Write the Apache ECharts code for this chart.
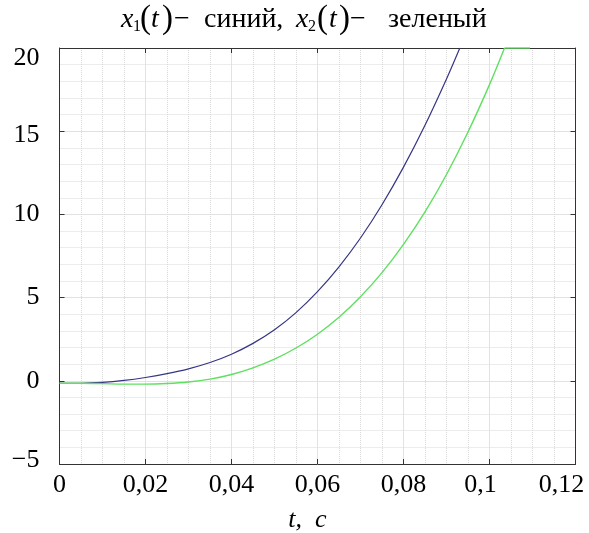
<!DOCTYPE html>
<html><head><meta charset="utf-8">
<script src="https://cdn.jsdelivr.net/npm/echarts@6/dist/echarts.min.js"></script>
<style>html,body{margin:0;padding:0;background:#fff}#c{width:589px;height:533px}</style>
</head><body><div id="c"></div>
<script>
// time (s)
const tBlue = [0,0.005,0.01,0.015,0.02,0.025,0.03,0.035,0.04,0.045,0.05,0.055,0.06,0.065,0.07,0.075,0.08,0.085,0.09,0.0931];
const x1Blue = [-0.15,-0.15,-0.1,0.02,0.2,0.43,0.72,1.1,1.6,2.25,3.07,4.1,5.36,6.85,8.58,10.58,12.84,15.36,18.14,20];
const tGreen = [0,0.005,0.01,0.015,0.02,0.025,0.03,0.035,0.04,0.045,0.05,0.055,0.06,0.065,0.07,0.075,0.08,0.085,0.09,0.095,0.1,0.1035];
const x2Green = [-0.15,-0.15,-0.17,-0.2,-0.2,-0.16,-0.07,0.1,0.38,0.78,1.3,1.97,2.8,3.82,5.05,6.5,8.2,10.15,12.4,14.95,17.8,20];
// green saturated at the top of the plot
const tGreenTop = [0.1035,0.1094];
const x2GreenTop = [20,20];
const xTicks = {min:0, max:0.12, step:0.02};
const yTicks = {min:-5, max:20, step:5};

const font = 'Liberation Serif, Times New Roman, serif';
const pair = (ts, vs) => ts.map((t,i)=>[t, vs[i]]);
const chart = echarts.init(document.getElementById('c'), null, {renderer:'canvas'});
const axisCommon = {
  axisLine:{show:true, onZero:false, lineStyle:{color:'#333', width:1}},
  axisTick:{show:true, inside:true, length:5, lineStyle:{color:'#333'}},
};
const lbl = {fontFamily:font, fontSize:26, color:'#000', fontWeight:'normal'};
// title pieces: [text, left x, font css, centre y]
const titleParts = [
  ['x', 121, 'italic 28px', 20], ['1', 133, '16px', 27], ['(', 140, '33px', 19], ['t', 151, 'italic 28px', 20],
  [')', 162, '33px', 19], ['−', 174, '28px', 20], ['синий,', 204, '28px', 20],
  ['x', 296, 'italic 28px', 20], ['2', 308, '16px', 27], ['(', 317, '33px', 19], ['t', 329, 'italic 28px', 20],
  [')', 339, '33px', 19], ['−', 350, '28px', 20], ['зеленый', 388, '28px', 20]
];
const green = {color:'#5fe05f', width:1.4};
chart.setOption({
  animation:false,
  backgroundColor:'#fff',
  graphic: titleParts.map(p=>({type:'text', silent:true,
    style:{text:p[0], font:p[2]+' '+font, fill:'#000', verticalAlign:'middle'},
    position:[p[1], p[3]]
  })),
  grid:{left:59.5, right:13.5, top:48, bottom:69, containLabel:false, outerBoundsMode:'none'},
  xAxis:[{
    type:'value', min:xTicks.min, max:xTicks.max, interval:xTicks.step,
    ...axisCommon,
    axisLabel:{...lbl, margin:8,
      formatter:v=>{
        if(v===0) return '0';
        const s=String(+v.toFixed(2)).replace('.',',');
        if(Math.abs(v-0.1)<1e-9) return '{a|'+s+'}';
        if(Math.abs(v-0.12)<1e-9) return '{b|'+s+'}';
        return s;
      },
      rich:{a:{...lbl, padding:[0,18,0,0]}, b:{...lbl, padding:[0,28,0,0]}}},
    splitLine:{show:true, lineStyle:{color:'#e2e2e2', width:1}},
    minorTick:{show:false, splitNumber:4},
    minorSplitLine:{show:true, lineStyle:{color:'#d8d8d8', type:'dotted', width:1}},
    name:'{i|t,  c}', nameLocation:'middle', nameGap:43,
    nameTextStyle:{padding:[0,20,0,0], rich:{i:{fontFamily:font, fontStyle:'italic', fontSize:26, color:'#000'}}}
  },{
    type:'value', position:'top', min:xTicks.min, max:xTicks.max, interval:xTicks.step,
    ...axisCommon, axisLabel:{show:false}, splitLine:{show:false}
  }],
  yAxis:[{
    type:'value', min:yTicks.min, max:yTicks.max, interval:yTicks.step,
    ...axisCommon,
    axisLabel:{...lbl, margin:20,
      formatter:v=>v===20?'{top|20}':v===15?'{mid|15}':(v<0?'{neg|−'+Math.abs(v)+'}':String(v)),
      rich:{
        top:{...lbl, padding:[20,0,0,0]},
        mid:{...lbl, padding:[7,0,0,0]},
        neg:{...lbl, padding:[0,0,7,0]}
      }},
    splitLine:{show:true, lineStyle:{color:'#e2e2e2', width:1}},
    minorTick:{show:false, splitNumber:5},
    minorSplitLine:{show:true, lineStyle:{color:'#d8d8d8', type:'dotted', width:1}}
  },{
    type:'value', position:'right', min:yTicks.min, max:yTicks.max, interval:yTicks.step,
    ...axisCommon, axisLabel:{show:false}, splitLine:{show:false}
  }],
  series:[
    {type:'line', data:pair(tBlue,x1Blue), showSymbol:false, smooth:0.3, clip:false,
     lineStyle:{color:'#353585', width:1.2}, z:3},
    {type:'line', data:pair(tGreen,x2Green), showSymbol:false, smooth:0.3, clip:false,
     lineStyle:green, z:3},
    {type:'line', data:pair(tGreenTop,x2GreenTop), showSymbol:false, clip:false,
     lineStyle:green, z:3}
  ]
});
</script></body></html>
